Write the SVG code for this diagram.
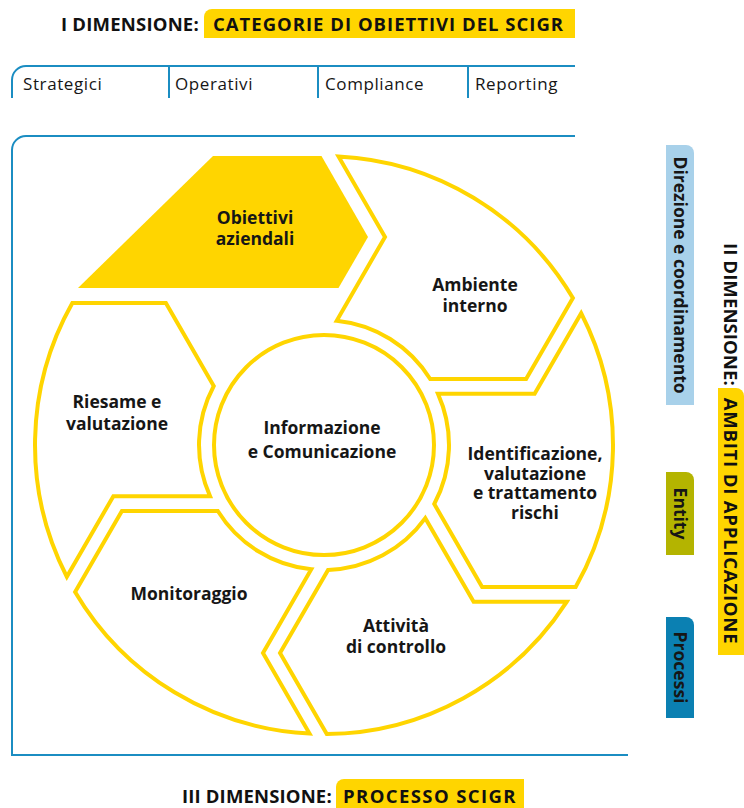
<svg xmlns="http://www.w3.org/2000/svg" xmlns:xlink="http://www.w3.org/1999/xlink" width="744" height="808" viewBox="0 0 744 808">
  <style>
    .lbl { font-family: "Open Sans", "Liberation Sans", sans-serif; font-weight: 700; font-size: 17.5px; fill: #161616; text-anchor: middle; }
    .tab { font-family: "Open Sans", "Liberation Sans", sans-serif; font-weight: 400; font-size: 17px; letter-spacing: 0.6px; fill: #161616; }
    .hdr { font-family: "Open Sans", "Liberation Sans", sans-serif; font-weight: 700; font-size: 18.5px; fill: #111111; }
    .side { font-family: "Open Sans", "Liberation Sans", sans-serif; font-weight: 700; font-size: 17.5px; fill: #161616; text-anchor: middle; }
    .seg { fill: #ffffff; stroke: #FFD500; stroke-width: 4; stroke-linejoin: miter; }
    .blue { fill: none; stroke: #1B8DC2; stroke-width: 2; }
    .yel { fill: #FFD500; }
  </style>
  <defs>
    <path id="seg" class="seg" d="M 338.5,156.4 A 289 289 0 0 1 572.9,298.1 L 526.1,379.1 L 430.2,379 A 125 125 0 0 0 336.7,320.7 L 385,237 Z"/>
  </defs>

  <rect width="744" height="808" fill="#ffffff"/>

  <!-- Header: I dimensione -->
  <g id="dim1">
    <text class="hdr" x="61" y="31" letter-spacing="0.2">I DIMENSIONE:</text>
    <path class="yel" d="M 204,38 V 17 A 8 8 0 0 1 212,9 H 575 V 38 Z"/>
    <text class="hdr" x="213" y="31" letter-spacing="1">CATEGORIE DI OBIETTIVI DEL SCIGR</text>
  </g>

  <!-- Tabs -->
  <g id="tabs">
    <path class="blue" d="M 12,98 V 80 A 14 14 0 0 1 26,66 H 575"/>
    <line class="blue" x1="169" y1="66" x2="169" y2="98"/>
    <line class="blue" x1="318" y1="66" x2="318" y2="98"/>
    <line class="blue" x1="468" y1="66" x2="468" y2="98"/>
    <text class="tab" x="23" y="90">Strategici</text>
    <text class="tab" x="175" y="90">Operativi</text>
    <text class="tab" x="325" y="90">Compliance</text>
    <text class="tab" x="475" y="90">Reporting</text>
  </g>

  <!-- Frame -->
  <g id="frame">
    <path class="blue" d="M 575,136 H 26 A 14 14 0 0 0 12,150 V 755 H 628"/>
  </g>

  <!-- Segments -->
  <g id="obiettivi">
    <polygon class="yel" points="78,288 213,156 321.5,156 368,237 338.5,288"/>
    <text class="lbl" x="255" y="224">Obiettivi</text>
    <text class="lbl" x="255" y="245">aziendali</text>
  </g>
  <g id="ambiente">
    <use xlink:href="#seg" href="#seg"/>
    <text class="lbl" x="475" y="291">Ambiente</text>
    <text class="lbl" x="475" y="312">interno</text>
  </g>
  <g id="identificazione">
    <use xlink:href="#seg" href="#seg" transform="rotate(60 324 445)"/>
    <text class="lbl" x="535" y="460">Identificazione,</text>
    <text class="lbl" x="535" y="479.5">valutazione</text>
    <text class="lbl" x="535" y="499">e trattamento</text>
    <text class="lbl" x="535" y="518.5">rischi</text>
  </g>
  <g id="attivita">
    <use xlink:href="#seg" href="#seg" transform="rotate(120 324 445)"/>
    <text class="lbl" x="396" y="632">Attività</text>
    <text class="lbl" x="396" y="653">di controllo</text>
  </g>
  <g id="monitoraggio">
    <use xlink:href="#seg" href="#seg" transform="rotate(180 324 445)"/>
    <text class="lbl" x="189" y="600">Monitoraggio</text>
  </g>
  <g id="riesame">
    <use xlink:href="#seg" href="#seg" transform="rotate(240 324 445)"/>
    <text class="lbl" x="117" y="408">Riesame e</text>
    <text class="lbl" x="117" y="430">valutazione</text>
  </g>
  <g id="informazione">
    <circle cx="324" cy="445" r="110" fill="#ffffff" stroke="#FFD500" stroke-width="4"/>
    <text class="lbl" x="322" y="434">Informazione</text>
    <text class="lbl" x="322" y="458">e Comunicazione</text>
  </g>

  <!-- II dimensione -->
  <g id="direzione">
    <path fill="#A8D1EA" d="M 666,145 H 686 A 8 8 0 0 1 694,153 V 405 H 666 Z"/>
    <text class="side" transform="translate(674,275) rotate(90)">Direzione e coordinamento</text>
  </g>
  <g id="entity">
    <path fill="#B4B400" d="M 666,472 H 686 A 8 8 0 0 1 694,480 V 555 H 666 Z"/>
    <text class="side" transform="translate(674,513.5) rotate(90)">Entity</text>
  </g>
  <g id="processi">
    <path fill="#0B80B2" d="M 666,617 H 686 A 8 8 0 0 1 694,625 V 718 H 666 Z"/>
    <text class="side" transform="translate(674,667.5) rotate(90)">Processi</text>
  </g>
  <g id="dim2">
    <text class="hdr" letter-spacing="0.1" transform="translate(723.5,243) rotate(90)">II DIMENSIONE:</text>
    <path class="yel" d="M 718,388 H 736 A 8 8 0 0 1 744,396 V 655 H 718 Z"/>
    <text class="hdr" text-anchor="middle" letter-spacing="0.8" transform="translate(723.5,521) rotate(90)">AMBITI DI APPLICAZIONE</text>
  </g>

  <!-- III dimensione -->
  <g id="dim3">
    <text class="hdr" x="182" y="803" letter-spacing="0.15">III DIMENSIONE:</text>
    <path class="yel" d="M 336,808 V 787 A 8 8 0 0 1 344,779 H 524 V 808 Z"/>
    <text class="hdr" x="343" y="803" letter-spacing="1.4">PROCESSO SCIGR</text>
  </g>
</svg>
